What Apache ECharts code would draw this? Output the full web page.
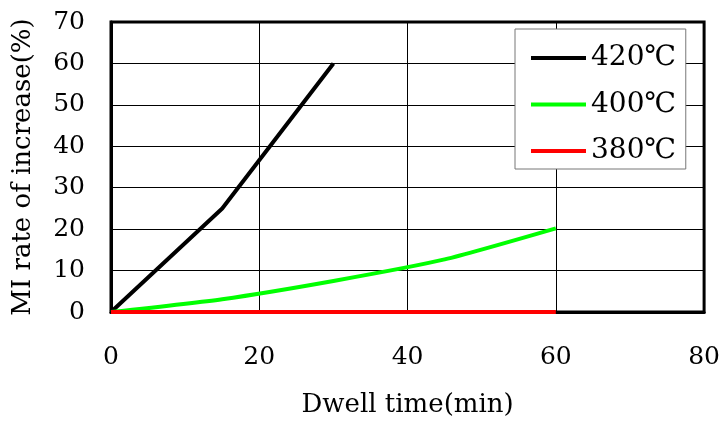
<!DOCTYPE html>
<html>
<head>
<meta charset="utf-8">
<script src="https://cdn.jsdelivr.net/npm/echarts@6/dist/echarts.min.js"></script>
<style>html,body{margin:0;padding:0;background:#fff}#c{width:723px;height:423px}</style>
</head>
<body>
<div id="c"></div>
<script>
const xTicks = [0, 20, 40, 60, 80];
const yTicks = [0, 10, 20, 30, 40, 50, 60, 70];
const seriesNames = ['420℃', '400℃', '380℃'];
const time420 = [0, 15, 30];
const mi420 = [0, 25, 60];
const time400 = [0, 15, 30, 45, 60];
const mi400 = [0, 3.1, 7.5, 12.7, 20.2];
const time380 = [0, 15, 30, 45, 60];
const mi380 = [0, 0, 0, 0, 0];

const font = 'DejaVu Serif';
const zip = (a, b) => a.map((v, i) => [v, b[i]]);
const chart = echarts.init(document.getElementById('c'), null, {renderer: 'canvas'});
chart.setOption({
  animation: false,
  backgroundColor: '#fff',
  grid: {left: 111, right: 17, top: 22, bottom: 109, show: true, borderColor: '#000', borderWidth: 3, backgroundColor: 'transparent'},
  legend: {
    orient: 'vertical', left: 515, top: 29,
    padding: [14, 10, 3, 16],
    backgroundColor: '#fff', borderColor: '#777', borderWidth: 1,
    itemWidth: 55, itemHeight: 4, itemGap: 16.5,
    icon: 'rect',
    textStyle: {fontFamily: font, fontSize: 28, color: '#000', lineHeight: 30},
    data: seriesNames
  },
  xAxis: {
    type: 'value', min: xTicks[0], max: xTicks[xTicks.length - 1], interval: 20,
    name: 'Dwell time(min)', nameLocation: 'middle', nameGap: 80,
    nameTextStyle: {fontFamily: font, fontSize: 26, color: '#000'},
    axisLine: {show: true, lineStyle: {color: '#000', width: 3}},
    axisTick: {show: false},
    axisLabel: {fontFamily: font, fontSize: 25, color: '#000', margin: 33},
    splitLine: {show: true, lineStyle: {color: '#000', width: 1}}
  },
  yAxis: {
    type: 'value', min: yTicks[0], max: yTicks[yTicks.length - 1], interval: 10,
    name: 'MI rate of increase(%)', nameLocation: 'middle', nameGap: 75,
    nameTextStyle: {fontFamily: font, fontSize: 26, color: '#000'},
    axisLine: {show: true, lineStyle: {color: '#000', width: 3}},
    axisTick: {show: false},
    axisLabel: {fontFamily: font, fontSize: 25, color: '#000', margin: 26},
    splitLine: {show: true, lineStyle: {color: '#000', width: 1}}
  },
  series: [
    {name: seriesNames[0], type: 'line', data: zip(time420, mi420), showSymbol: false, symbol: 'none', lineStyle: {color: '#000', width: 4}, itemStyle: {color: '#000'}, clip: false},
    {name: seriesNames[1], type: 'line', data: zip(time400, mi400), showSymbol: false, symbol: 'none', smooth: 0.2, lineStyle: {color: '#00ff00', width: 4}, itemStyle: {color: '#00ff00'}, clip: false},
    {name: seriesNames[2], type: 'line', data: zip(time380, mi380), showSymbol: false, symbol: 'none', lineStyle: {color: '#ff0000', width: 4}, itemStyle: {color: '#ff0000'}, clip: false}
  ]
});
</script>
</body>
</html>
